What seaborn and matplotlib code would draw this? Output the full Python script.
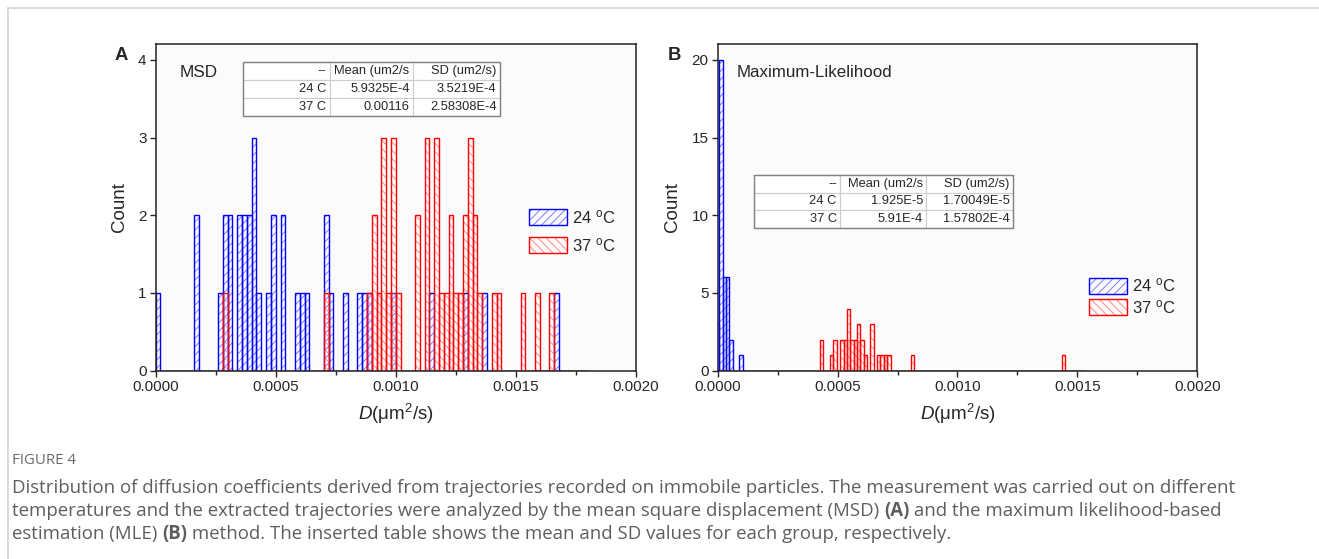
import matplotlib
matplotlib.use('Agg')
import matplotlib.pyplot as plt
import seaborn as sns
import numpy as np
from matplotlib.patches import Patch, Rectangle
from matplotlib.lines import Line2D
from matplotlib.legend_handler import HandlerTuple
from matplotlib.ticker import FormatStrFormatter, MultipleLocator

sns.set_style('ticks')
plt.rcParams['font.family'] = ['Liberation Sans', 'DejaVu Sans']
plt.rcParams['mathtext.fontset'] = 'custom'
plt.rcParams['mathtext.rm'] = 'Liberation Sans'
plt.rcParams['mathtext.it'] = 'Liberation Sans:italic'
plt.rcParams['hatch.linewidth'] = 0.7

## Panel A (MSD): bin centres and counts, bin width 2e-5
msd_24_d = [0.00001, 0.00017, 0.00027, 0.00029, 0.00031, 0.00035, 0.00037, 0.00039, 0.00041,
            0.00043, 0.00047, 0.00049, 0.00053, 0.00059, 0.00061, 0.00063, 0.00071, 0.00073,
            0.00079, 0.00085, 0.00087, 0.00089, 0.00099, 0.00115, 0.00129, 0.00137, 0.00167]
msd_24_n = [1, 2, 1, 2, 2, 2, 2, 2, 3, 1, 1, 2, 2, 1, 1, 1, 2, 1, 1, 1, 1, 1, 1, 1, 1, 1, 1]
msd_37_d = [0.00029, 0.00071, 0.00089, 0.00091, 0.00093, 0.00095, 0.00097, 0.00099, 0.00101,
            0.00109, 0.00113, 0.00117, 0.00119, 0.00121, 0.00123, 0.00125, 0.00127, 0.00129,
            0.00131, 0.00133, 0.00135, 0.00141, 0.00143, 0.00153, 0.00159, 0.00165]
msd_37_n = [1, 1, 1, 2, 1, 3, 1, 3, 1, 2, 3, 3, 1, 1, 2, 1, 1, 2, 3, 2, 1, 1, 1, 1, 1, 1]

## Panel B (MLE): bin centres and counts, bin width 1.4e-5
mle_24_d = [0.0, 0.000014, 0.000028, 0.000042, 0.000056, 0.000098]
mle_24_n = [3, 20, 6, 6, 2, 1]
mle_37_d = [0.000434, 0.000476, 0.000490, 0.000518, 0.000532, 0.000546, 0.000560, 0.000574,
            0.000588, 0.000602, 0.000616, 0.000644, 0.000672, 0.000686, 0.000700, 0.000714,
            0.000812, 0.001442]
mle_37_n = [2, 1, 2, 2, 2, 4, 2, 2, 3, 2, 1, 3, 1, 1, 1, 1, 1, 1]

tab_cols = ['--', 'Mean (um2/s', 'SD (um2/s)']
msd_tab = [['24 C', '5.9325E-4', '3.5219E-4'], ['37 C', '0.00116', '2.58308E-4']]
mle_tab = [['24 C', '1.925E-5', '1.70049E-5'], ['37 C', '5.91E-4', '1.57802E-4']]

labels = ['24 $^{\\rm o}$C', '37 $^{\\rm o}$C']
blue, blue_h = '#0000ff', '#7d7dff'
red, red_h = '#ff0000', '#ff8a8a'


def draw_hist(ax, d, n, w, lo, nb, edge, hcol, hatch):
    kw = dict(x=d, weights=n, binwidth=w, binrange=(lo, lo + nb * w), ax=ax, fill=False)
    sns.histplot(**kw, color=hcol, hatch=hatch, linewidth=0)
    sns.histplot(**kw, color=edge, linewidth=1.0)


def add_table(ax, rows, bbox, widths):
    tb = ax.table(cellText=[tab_cols] + rows, cellLoc='right', bbox=bbox, colWidths=widths)
    tb.auto_set_font_size(False)
    tb.set_fontsize(9.3)
    tb.set_zorder(5)
    for (r, c), cell in tb.get_celld().items():
        cell.set_edgecolor('#cccccc')
        cell.set_linewidth(0.8)
        cell.set_facecolor('white')
        cell.PAD = 0.04
        if c == 0 and r > 0:
            cell._loc = 'left'
    ax.add_patch(Rectangle((bbox[0], bbox[1]), bbox[2], bbox[3], transform=ax.transAxes,
                           fill=False, ec='#808080', lw=1.0, zorder=6))


def style_axes(ax, ymax, ystep):
    ax.set_facecolor('#fbfbfb')
    ax.set_xlim(0, 0.002)
    ax.set_ylim(0, ymax)
    ax.xaxis.set_major_locator(MultipleLocator(0.0005))
    ax.xaxis.set_minor_locator(MultipleLocator(0.00025))
    ax.xaxis.set_major_formatter(FormatStrFormatter('%.4f'))
    ax.yaxis.set_major_locator(MultipleLocator(ystep))
    ax.tick_params(axis='both', which='major', direction='out', length=4.5, width=1.0,
                   labelsize=11, pad=2, top=False, right=False)
    ax.tick_params(axis='x', which='minor', direction='out', length=2.8, width=1.0)
    for s in ax.spines.values():
        s.set_visible(True)
        s.set_linewidth(1.1)
        s.set_color('#222222')
    ax.set_xlabel('$\\it{D}$(μm$^{2}$/s)', fontsize=13.5)
    ax.set_ylabel('Count', fontsize=13.5)
    ax.xaxis.set_label_coords(0.5, -0.097)


def add_legend(ax, anchor, spacing):
    hb = (Patch(facecolor='none', edgecolor=blue_h, hatch='////', linewidth=0),
          Patch(facecolor='none', edgecolor=blue, linewidth=1.0))
    hr = (Patch(facecolor='none', edgecolor=red_h, hatch='\\\\\\\\', linewidth=0),
          Patch(facecolor='none', edgecolor=red, linewidth=1.0))
    ax.legend([hb, hr], labels, handler_map={tuple: HandlerTuple(ndivide=1, pad=0)},
              loc='upper left', bbox_to_anchor=anchor, frameon=False, fontsize=12,
              handlelength=2.3, handleheight=1.1, handletextpad=0.3, labelspacing=spacing,
              borderpad=0, borderaxespad=0)


fig = plt.figure(figsize=(13.19, 5.59), dpi=100)
axA = fig.add_axes([0.1180, 0.3369, 0.3641, 0.5839])
axB = fig.add_axes([0.5441, 0.3369, 0.3636, 0.5839])

## A: MSD
draw_hist(axA, msd_24_d, msd_24_n, 0.00002, 0.0, 90, blue, blue_h, '////')
draw_hist(axA, msd_37_d, msd_37_n, 0.00002, 0.0, 90, red, red_h, '\\\\\\\\')
style_axes(axA, 4.2, 1)
axA.yaxis.set_label_coords(-0.058, 0.5)
axA.text(0.05, 0.915, 'MSD', transform=axA.transAxes, fontsize=12.3, va='center')
add_table(axA, msd_tab, [0.1818, 0.7803, 0.5351, 0.1655], [0.339, 0.323, 0.339])
add_legend(axA, (0.777, 0.4985), 0.6)

## B: Maximum likelihood
draw_hist(axB, mle_24_d, mle_24_n, 0.000014, -0.000007, 110, blue, blue_h, '////')
draw_hist(axB, mle_37_d, mle_37_n, 0.000014, -0.000007, 110, red, red_h, '\\\\\\\\')
style_axes(axB, 21, 5)
axB.yaxis.set_label_coords(-0.077, 0.5)
axB.text(0.04, 0.912, 'Maximum-Likelihood', transform=axB.transAxes, fontsize=12.2, va='center')
add_table(axB, mle_tab, [0.0757, 0.4372, 0.5400, 0.1624], [0.333, 0.333, 0.334])
add_legend(axB, (0.774, 0.288), 0.2)

fig.text(0.0872, 0.9016, 'A', fontsize=13.3, fontweight='bold', va='center')
fig.text(0.5064, 0.9016, 'B', fontsize=13.3, fontweight='bold', va='center')

## frame lines of the figure box
fig.add_artist(Line2D([8 / 1319, 8 / 1319], [0, 1 - 8 / 559], transform=fig.transFigure,
                      color='#d4d4d4', lw=1.2))
fig.add_artist(Line2D([8 / 1319, 1], [1 - 8 / 559, 1 - 8 / 559], transform=fig.transFigure,
                      color='#d4d4d4', lw=1.2))

## caption
cap_font = ['Open Sans', 'DejaVu Sans']
cap_col = '#5e5e5e'
fig.text(12 / 1319, 1 - 460 / 559, 'FIGURE 4', fontsize=10.8, color='#6a6a6a',
         family=cap_font, va='center')
cap_lines = [
    [('Distribution of diffusion coefficients derived from trajectories recorded on immobile '
      'particles. The measurement was carried out on different', 'normal')],
    [('temperatures and the extracted trajectories were analyzed by the mean square '
      'displacement (MSD) ', 'normal'), ('(A)', 'bold'),
     (' and the maximum likelihood-based', 'normal')],
    [('estimation (MLE) ', 'normal'), ('(B)', 'bold'),
     (' method. The inserted table shows the mean and SD values for each group, respectively.',
      'normal')],
]
cap_y = [488, 511, 534]
renderer = fig.canvas.get_renderer()
for parts, yp in zip(cap_lines, cap_y):
    x = 12 / 1319
    for txt, wt in parts:
        t = fig.text(x, 1 - yp / 559, txt, fontsize=13.42, color=cap_col, family=cap_font,
                     fontweight=wt, va='center')
        bb = t.get_window_extent(renderer=renderer)
        x = bb.x1 / fig.bbox.width

fig.savefig('out.png', dpi=100)
